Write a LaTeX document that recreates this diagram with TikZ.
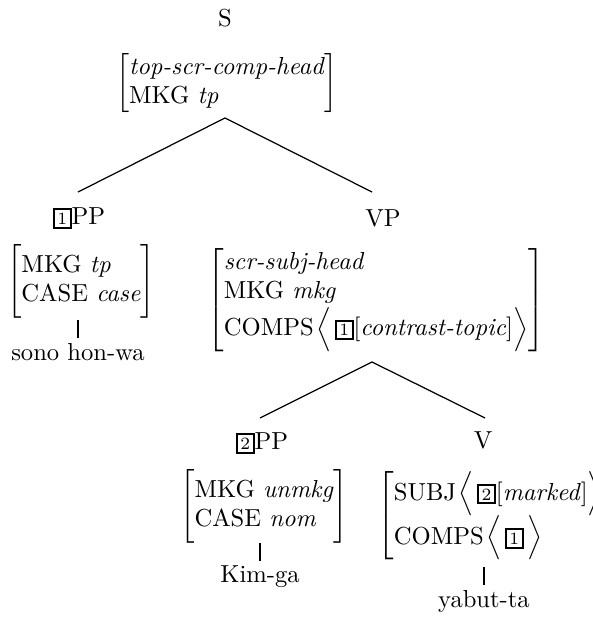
\documentclass[tikz,border=0pt]{standalone}
\usepackage{amsmath}
\newcommand\tg[1]{{\setlength\fboxsep{1pt}\setlength\fboxrule{0.8pt}\fbox{\scriptsize #1}}}
\newcommand\avmx[2]{$\left[\vcenter{\hbox{\rule{0pt}{#1}}}\begin{tabular}{@{}l@{}}#2\end{tabular}\right]$}
\begin{document}
\begin{tikzpicture}[x=0.4065pt,y=-0.4065pt,
  lab/.style={inner sep=0pt},
  avmnode/.style={inner sep=0pt},
  word/.style={inner sep=0pt},
  edge/.style={draw=black,line width=0.5pt}]
\useasboundingbox (0,0) rectangle (592,617);
% labels
\node[lab] (s) at (225,18) {S};
\node[avmnode] (savm) at (227,83) {\avmx{0pt}{\textit{top-scr-comp-head}\\ MKG \textit{tp}}};
\node[lab] (pp1) at (79,218) {\tg{1}PP};
\node[avmnode] (pp1avm) at (81,281) {\avmx{28pt}{MKG \textit{tp}\\ CASE \textit{case}}};
\node[word] (w1) at (78,352) {sono hon-wa};
\node[lab] (vp) at (383,218) {VP};
\node[avmnode] (vpavm) at (376,300) {\avmx{45pt}{\textit{scr-subj-head}\\ MKG \textit{mkg}\\ COMPS\hspace{1pt}$\Big\langle$\hspace{1.5pt}\tg{1}[\textit{contrast-topic}]$\Big\rangle$}};
\node[lab] (pp2) at (262,443) {\tg{2}PP};
\node[avmnode] (pp2avm) at (264,506) {\avmx{28pt}{MKG \textit{unmkg}\\ CASE \textit{nom}}};
\node[word] (w2) at (260,577) {Kim-ga};
\node[lab] (v) at (483,440) {V};
\node[avmnode,anchor=west] (vavm) at (377,516) {\avmx{39pt}{SUBJ\hspace{1pt}$\Big\langle$\hspace{1.5pt}\tg{2}[\textit{marked}]$\Big\rangle$\\ COMPS\hspace{1pt}$\Big\langle$\hspace{1.5pt}\tg{1}\hspace{1.5pt}$\Big\rangle$}};
\node[word] (w3) at (484,601) {yabut-ta};
% tree edges
\coordinate (sapex) at (225,118);
\coordinate (e1) at (78,192);
\coordinate (e2) at (372,192);
\draw[edge] (e1) -- (sapex) -- (e2);
\coordinate (vapex) at (372,362);
\coordinate (e3) at (260,418);
\coordinate (e4) at (485,418);
\draw[edge] (e3) -- (vapex) -- (e4);
% lexical lines
\draw[edge] ([yshift=2pt]w1.north) -- ++(0,-18);
\draw[edge] ([yshift=2pt]w2.north) -- ++(0,-18);
\draw[edge] ([yshift=2pt]w3.north) -- ++(0,-18);
\end{tikzpicture}
\end{document}
